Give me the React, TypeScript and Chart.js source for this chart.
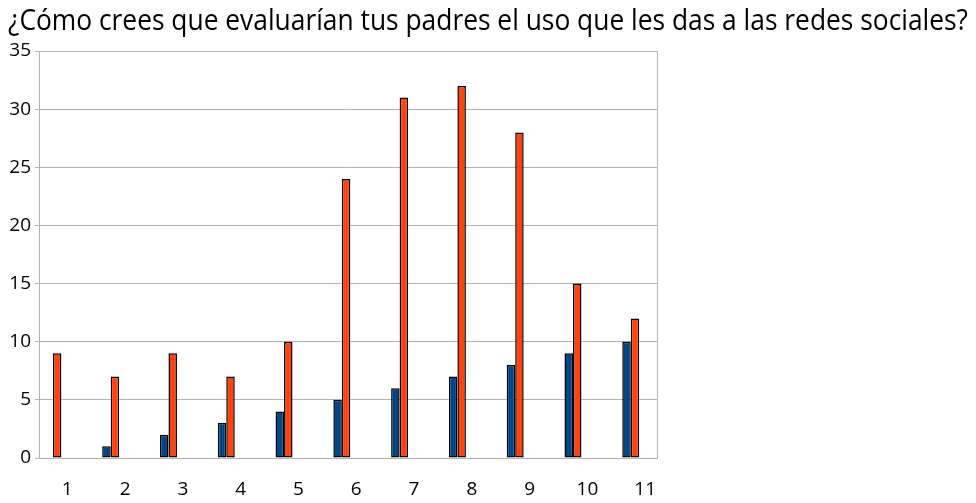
import React, { useEffect, useRef } from "react";
import { Chart, registerables } from "chart.js";

Chart.register(...registerables);

const categories = [1, 2, 3, 4, 5, 6, 7, 8, 9, 10, 11];
const seriesBlue = [0, 1, 2, 3, 4, 5, 6, 7, 8, 9, 10];
const seriesOrange = [9, 7, 9, 7, 10, 24, 31, 32, 28, 15, 12];
const yTicks = [0, 5, 10, 15, 20, 25, 30, 35];
const titleText = "¿Cómo crees que evaluarían tus padres el uso que les das a las redes sociales?";

const FONT = "'Open Sans', 'DejaVu Sans', sans-serif";
const GRID = "#b3b3b3";

const framePlugin = {
  id: "frame",
  beforeDatasetsDraw(chart: any) {
    const { ctx, chartArea } = chart;
    ctx.save();
    ctx.strokeStyle = GRID;
    ctx.lineWidth = 1;
    ctx.beginPath();
    ctx.moveTo(Math.round(chartArea.right) + 0.5, chartArea.top);
    ctx.lineTo(Math.round(chartArea.right) + 0.5, chartArea.bottom);
    ctx.stroke();
    ctx.restore();
  },
};

export default function App() {
  const ref = useRef<HTMLCanvasElement | null>(null);
  useEffect(() => {
    if (!ref.current) return;
    const toPoints = (vals: number[]) => categories.map((c, i) => ({ x: c, y: vals[i] }));
    const chart = new Chart(ref.current, {
      type: "bar",
      data: {
        datasets: [
          {
            label: "A",
            data: toPoints(seriesBlue),
            xAxisID: "xb",
            backgroundColor: "#004586",
            borderColor: "#000000",
            borderWidth: 1.5,
            borderSkipped: false,
          },
          {
            label: "B",
            data: toPoints(seriesOrange),
            xAxisID: "xb",
            backgroundColor: "#ff420e",
            borderColor: "#000000",
            borderWidth: 1.5,
            borderSkipped: false,
          },
        ],
      },
      options: {
        animation: false,
        responsive: false,
        maintainAspectRatio: false,
        layout: { padding: 0 },
        datasets: { bar: { categoryPercentage: 0.294, barPercentage: 1 } },
        plugins: {
          legend: { display: false },
          tooltip: { enabled: false },
          title: {
            display: true,
            text: titleText,
            color: "#000000",
            font: { family: FONT, size: 30, weight: "normal", lineHeight: 0.9 },
            padding: { top: 0, bottom: 16 },
          },
        },
        scales: {
          xb: {
            type: "linear",
            position: "bottom",
            display: false,
            offset: false,
            min: 0.7595,
            max: 11.454,
          },
          x: {
            type: "linear",
            position: "bottom",
            offset: false,
            min: 0.5103,
            max: 11.204,
            afterBuildTicks: (s: any) => {
              s.ticks = categories.map((v) => ({ value: v }));
            },
            grid: { display: false, drawTicks: false },
            border: { display: true, color: GRID, width: 1 },
            ticks: {
              color: "#000000",
              font: { family: FONT, size: 19 },
              padding: 20,
              maxRotation: 0,
              autoSkip: false,
            },
            afterFit: (s: any) => {
              s.height = 45;
            },
          },
          y: {
            min: 0,
            max: 35,
            afterBuildTicks: (s: any) => {
              s.ticks = yTicks.map((v) => ({ value: v }));
            },
            ticks: {
              color: "#000000",
              font: { family: FONT, size: 19 },
              padding: 4,
            },
            grid: { color: GRID, lineWidth: 1, tickLength: 4, drawTicks: true },
            border: { display: true, color: GRID, width: 1 },
            afterFit: (s: any) => {
              s.width = 31;
            },
          },
          spacer: {
            type: "linear",
            position: "right",
            display: true,
            grid: { display: false, drawTicks: false },
            border: { display: false },
            ticks: { display: false },
            afterFit: (s: any) => {
              s.width = 311;
            },
          },
        },
      },
      plugins: [framePlugin],
    });
    return () => chart.destroy();
  }, []);
  return (
    <div style={{ width: 960, height: 495, marginBottom: -8 }}>
      <canvas ref={ref} width={960} height={495} style={{ width: 960, height: 495, display: "block" }} />
    </div>
  );
}
